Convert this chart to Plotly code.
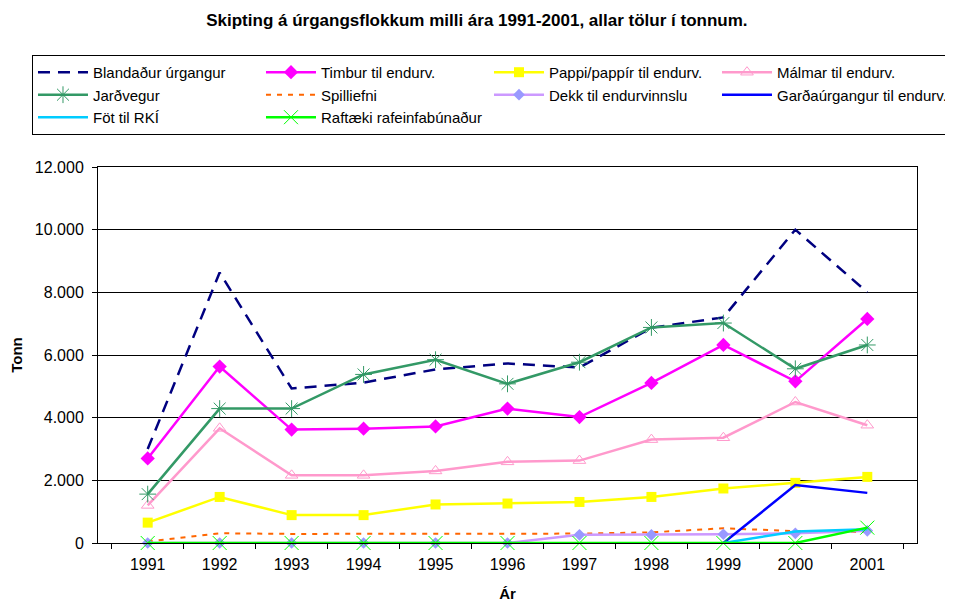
import plotly.graph_objects as go

years = ["1991", "1992", "1993", "1994", "1995", "1996", "1997", "1998", "1999", "2000", "2001"]

blandadur = [3000, 8630, 4930, 5120, 5540, 5730, 5600, 6870, 7200, 10000, 8000]
timbur = [2700, 5630, 3620, 3650, 3720, 4290, 4020, 5110, 6320, 5160, 7150]
pappi = [650, 1470, 890, 890, 1230, 1260, 1310, 1470, 1740, 1920, 2110]
malmar = [1200, 3660, 2160, 2160, 2300, 2590, 2630, 3300, 3360, 4500, 3760]
jardvegur = [1560, 4290, 4290, 5380, 5850, 5080, 5770, 6880, 7020, 5560, 6320]
spilliefni = [50, 310, 290, 290, 290, 290, 300, 340, 470, 380, 350]
dekk = [0, 0, 0, 0, 0, 0, 260, 260, 280, 310, 390]
gardaurgangur = [None, None, None, None, None, None, None, None, 0, 1850, 1600]
fot = [None, None, None, None, None, None, None, None, 0, 370, 440]
raftaeki = [0, 0, 0, 0, 0, 0, 0, 0, 0, 0, 490]

y_ticks = [0, 2000, 4000, 6000, 8000, 10000, 12000]

title_text = "Skipting á úrgangsflokkum milli ára 1991-2001, allar tölur í tonnum."

FONT = "Liberation Sans, Arial, sans-serif"

fig = go.Figure()

def add(name, vals, color, width=2.5, dash="solid", symbol=None, msize=9, mline=None, lcolor=None):
    mode = "lines+markers" if symbol else "lines"
    marker = {}
    if symbol:
        marker = dict(symbol=symbol, size=msize, color=color)
        if mline:
            marker["line"] = dict(color=mline, width=1)
    fig.add_trace(go.Scatter(
        x=years, y=vals, name=name, mode=mode,
        line=dict(color=lcolor or color, width=width, dash=dash),
        marker=marker, connectgaps=False, cliponaxis=False,
    ))

add("Blandaður úrgangur", blandadur, "#000080", width=2.5, dash="12px,8px")
add("Timbur til endurv.", timbur, "#FF00FF", symbol="diamond", msize=11)
add("Pappi/pappír til endurv.", pappi, "#FFFF00", symbol="square", msize=10)
add("Málmar til endurv.", malmar, "#FF99CC", symbol="triangle-up-open", msize=11, mline="#FF99CC")
add("Jarðvegur", jardvegur, "#339966", symbol="asterisk-open", msize=14, mline="#339966")
add("Spilliefni", spilliefni, "#FF6600", width=2, dash="5px,6px")
add("Dekk til endurvinnslu", dekk, "#9999FF", symbol="diamond", msize=9, lcolor="#CC99FF")
add("Garðaúrgangur til endurv.", gardaurgangur, "#0000FF")
add("Föt til RKÍ", fot, "#00CCFF")
add("Raftæki rafeinfabúnaður", raftaeki, "#00FF00", symbol="x-thin-open", msize=14, mline="#00FF00")

fig.update_layout(
    width=953, height=601,
    margin=dict(l=90, r=44, t=159, b=66, autoexpand=False),
    paper_bgcolor="white", plot_bgcolor="white",
    separators=",.",
    font=dict(family=FONT, size=15, color="#000000"),
    title=dict(text="<b>" + title_text + "</b>", x=0.492, xanchor="center",
               y=0.99, yanchor="top", font=dict(size=17)),
    showlegend=True,
    legend=dict(
        orientation="h", x=-0.0806, xanchor="left", y=1.298, yanchor="top",
        entrywidth=163, entrywidthmode="pixels", itemwidth=50,
        bordercolor="#000000", borderwidth=1, bgcolor="white",
        font=dict(size=15), traceorder="normal", tracegroupgap=0,
        itemclick=False,
    ),
    xaxis=dict(
        type="category", categoryorder="array", categoryarray=years,
        tickson="boundaries", ticks="outside", ticklen=5, tickcolor="#000000",
        showline=True, linecolor="#000000", linewidth=1, mirror=True,
        showgrid=False, zeroline=False, ticklabelstandoff=7, automargin=False,
        title=dict(text="<b>Ár</b>", font=dict(size=15), standoff=16),
        tickfont=dict(size=16),
    ),
    yaxis=dict(
        range=[0, 12000], tickvals=y_ticks, tickformat=",.0f",
        ticks="outside", ticklen=5, tickcolor="#000000",
        showline=True, linecolor="#000000", linewidth=1, mirror=True,
        showgrid=True, gridcolor="#000000", gridwidth=1, zeroline=False,
        ticklabelstandoff=5, automargin=False,
        title=dict(text="<b>Tonn</b>", font=dict(size=15), standoff=12),
        tickfont=dict(size=16),
    ),
)

fig.write_html("out.html")
